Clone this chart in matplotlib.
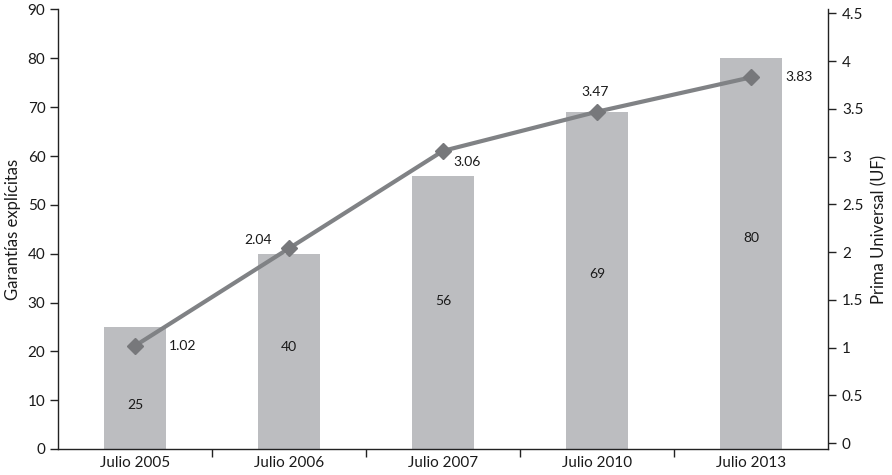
import matplotlib
matplotlib.use("Agg")
import matplotlib.pyplot as plt
import numpy as np

categories = ["Julio 2005", "Julio 2006", "Julio 2007", "Julio 2010", "Julio 2013"]
garantias = [25, 40, 56, 69, 80]
prima = [1.02, 2.04, 3.06, 3.47, 3.83]
left_ticks = [0, 10, 20, 30, 40, 50, 60, 70, 80, 90]
right_ticks = [0, 0.5, 1, 1.5, 2, 2.5, 3, 3.5, 4, 4.5]
right_tick_labels = ["0", "0.5", "1", "1.5", "2", "2.5", "3", "3.5", "4", "4.5"]

plt.rcParams['font.family'] = ['Lato', 'DejaVu Sans']

fig = plt.figure(figsize=(8.92, 4.75), dpi=100)
ax = fig.add_axes([58/892, 26/475, 770/892, 439.5/475])
ax2 = ax.twinx()

x = np.arange(len(categories))
bar_color = "#bcbdc0"
line_color = "#808285"
marker_color = "#77787b"
text_color = "#1a1a1a"

bars = ax.bar(x, garantias, width=0.4, color=bar_color, zorder=1)
ax.set_xlim(-0.5, len(categories) - 0.5)
ax.set_ylim(0, 90)
ax.set_yticks(left_ticks)
ax.set_yticklabels([str(t) for t in left_ticks])

# bar labels (vertical position as fraction of bar height)
label_frac = [0.36, 0.52, 0.54, 0.52, 0.54]
for xi, v, f in zip(x, garantias, label_frac):
    ax.text(xi, v * f, str(v), ha="center", va="center", fontsize=10, color=text_color)

ax2.plot(x, prima, color=line_color, lw=3, marker="D", markersize=8,
         markerfacecolor=marker_color, markeredgecolor=marker_color, zorder=3)
ax2.set_ylim(-0.060, 4.540)
ax2.set_yticks(right_ticks)
ax2.set_yticklabels(right_tick_labels)

offsets = [(48, 0), (-31, 8), (24, -11), (-2, 20), (48, 0)]
for xi, v, off in zip(x, prima, offsets):
    ax2.annotate(f"{v:.2f}", xy=(xi, v), xytext=off, textcoords="offset pixels",
                 ha="center", va="center", fontsize=10, color=text_color)

# x axis: labels at centres, ticks at boundaries
ax.set_xticks(x)
ax.set_xticklabels(categories, fontsize=11, color=text_color)
ax.tick_params(axis="x", which="major", length=0, pad=5)
ax.set_xticks(np.arange(0.5, len(categories) - 0.5, 1), minor=True)
ax.tick_params(axis="x", which="minor", length=6, width=1, direction="out", color="#222222")

ax.tick_params(axis="y", length=6, width=1, direction="out", labelsize=11, pad=3,
               color="#222222", labelcolor=text_color)
ax2.tick_params(axis="y", length=6, width=1, direction="out", labelsize=11, pad=4,
                color="#222222", labelcolor=text_color)

for a in (ax, ax2):
    a.spines["top"].set_visible(False)
    for s in ("left", "right", "bottom"):
        a.spines[s].set_color("#222222")
        a.spines[s].set_linewidth(1)
ax.spines["right"].set_visible(False)
ax2.spines["left"].set_visible(False)
ax2.spines["bottom"].set_visible(False)

ax.set_ylabel("Garantías explícitas", fontsize=12, color=text_color, labelpad=5)
ax2.set_ylabel("Prima Universal (UF)", fontsize=12, color=text_color, labelpad=6)

fig.savefig("out.png", dpi=100)
